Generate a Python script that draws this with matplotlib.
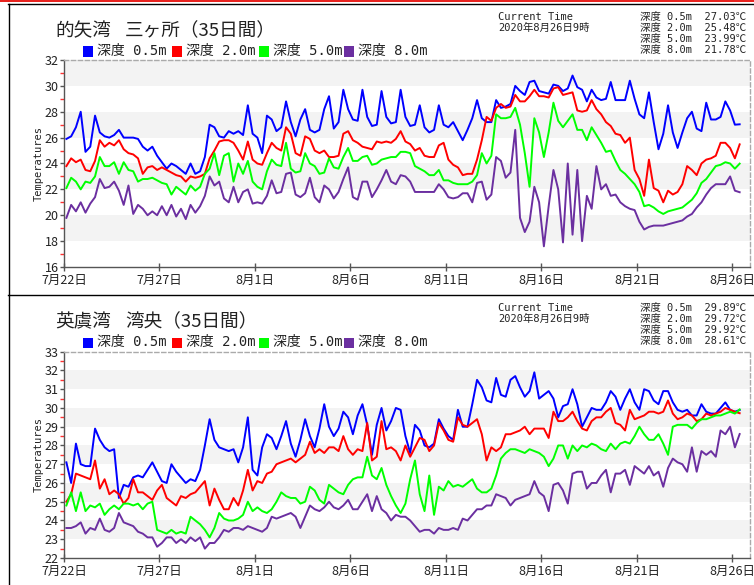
import matplotlib
matplotlib.use('Agg')
import matplotlib.pyplot as plt
from matplotlib.lines import Line2D
from matplotlib.patches import Rectangle
from datetime import datetime, timedelta
import numpy as np

plt.rcParams['font.family'] = ['Noto Sans CJK JP', 'DejaVu Sans']

# ---------------- data ----------------
START = datetime(2020, 7, 22)
N_DAYS = 35
SAMPLE_HOURS = [3, 9, 15, 21]
LAST_DAY_HOURS = [3, 9]          # 2020-08-26 03h, 09h (current time)
depth_labels = ["0.5", "2.0", "5.0", "8.0"]
series_colors = ["#0000ff", "#ff0000", "#00ff00", "#6b2fa0"]
current_time_label = "2020年8月26日9時"
period_label = "（35日間）"

# 的矢湾 三ヶ所
mato_05 = [25.9, 26.1, 26.8, 28.0, 24.9, 25.3, 27.7, 26.4, 26.1, 26.0, 26.2, 26.6,
           26.0, 26.0, 26.0, 25.9, 25.3, 25.0, 25.3, 24.6, 24.1, 23.6, 24.0, 23.8,
           23.5, 23.2, 24.0, 23.2, 23.4, 24.5, 27.0, 26.8, 26.1, 26.0, 26.5, 26.3,
           26.5, 26.2, 28.5, 26.3, 26.0, 24.8, 27.7, 27.4, 26.5, 26.8, 28.8, 27.2,
           26.1, 27.4, 28.2, 26.6, 26.4, 26.6, 28.2, 29.2, 26.7, 27.2, 29.7, 28.2,
           27.4, 27.3, 29.7, 27.6, 26.9, 27.0, 29.6, 27.6, 27.1, 27.2, 29.7, 27.6,
           26.9, 27.0, 28.5, 26.8, 26.4, 26.6, 28.5, 27.0, 26.8, 27.2, 26.5, 25.8,
           26.6, 27.5, 28.9, 27.5, 27.2, 27.2, 28.9, 28.3, 28.4, 28.6, 30.0, 29.6,
           29.3, 30.3, 30.4, 29.6, 29.5, 29.4, 30.1, 30.0, 29.6, 29.8, 30.8, 29.9,
           29.7, 28.8, 29.7, 29.1, 28.9, 29.0, 30.3, 28.9, 28.9, 28.9, 30.4, 29.0,
           27.8, 27.5, 29.5, 27.2, 25.1, 26.3, 28.5, 26.4, 25.2, 26.4, 27.5, 28.0,
           26.7, 26.5, 28.7, 27.4, 27.4, 27.6, 28.8, 28.1, 27.0, 27.03]
mato_20 = [23.8, 24.4, 24.1, 24.3, 23.5, 23.4, 24.2, 25.8, 25.3, 25.6, 25.4, 25.8,
           25.1, 24.8, 24.7, 24.4, 23.2, 23.7, 23.8, 23.5, 23.7, 23.5, 23.3, 23.1,
           23.0, 22.6, 23.0, 22.9, 23.0, 23.2, 24.4, 25.0, 25.7, 25.8, 25.8, 25.6,
           25.0, 24.3, 25.7, 24.3, 24.0, 23.9, 24.8, 25.6, 25.2, 25.0, 26.8, 26.3,
           24.8, 24.6, 26.1, 25.9, 25.0, 24.8, 25.0, 24.5, 24.5, 24.6, 26.3, 26.5,
           25.8, 25.6, 25.3, 25.2, 25.1, 25.7, 25.6, 25.7, 25.6, 25.9, 26.5, 25.7,
           25.5, 25.0, 25.2, 24.6, 24.5, 24.5, 25.4, 25.6, 24.3, 23.9, 23.7, 23.1,
           23.2, 23.2, 24.3, 25.8, 27.6, 27.3, 28.3, 28.6, 28.3, 28.4, 29.3, 28.8,
           28.8, 29.2, 29.7, 29.2, 29.2, 29.1, 29.8, 29.9, 29.3, 29.4, 29.5, 28.1,
           28.0, 28.1, 28.9, 28.2, 27.8, 27.2, 26.9, 26.3, 26.2, 25.6, 26.0, 23.5,
           22.8, 21.5, 24.3, 22.1, 21.9, 21.0, 21.9, 21.6, 21.8, 22.4, 23.8, 23.5,
           23.1, 24.0, 24.3, 24.4, 24.6, 25.6, 25.6, 25.2, 24.4, 25.48]
mato_50 = [22.1, 22.9, 22.6, 22.0, 22.6, 22.5, 23.0, 24.5, 23.8, 23.8, 24.1, 23.2,
           24.1, 23.5, 23.4, 22.6, 22.8, 22.8, 22.9, 22.7, 22.5, 22.4, 21.6, 22.2,
           21.9, 21.6, 22.3, 21.9, 22.2, 23.2, 23.6, 24.8, 23.1, 24.6, 24.8, 22.6,
           24.0, 23.2, 24.2, 22.6, 22.2, 22.0, 23.4, 24.3, 23.9, 23.8, 25.6, 23.6,
           23.3, 23.4, 24.8, 24.0, 23.8, 23.2, 23.3, 24.4, 23.7, 23.6, 24.5, 25.2,
           24.2, 24.2, 24.5, 24.6, 23.9, 24.0, 24.3, 24.4, 24.5, 24.5, 24.9, 24.9,
           24.8, 23.8, 23.6, 23.4, 23.1, 23.1, 23.5, 22.7, 22.7, 22.5, 22.4, 22.4,
           22.4, 22.6, 23.1, 24.8, 24.0, 24.6, 27.8, 27.5, 27.5, 27.6, 28.3, 27.0,
           24.8, 22.2, 27.5, 26.4, 24.5, 26.4, 28.7, 27.3, 26.8, 27.3, 27.8, 26.6,
           26.6, 25.8, 26.8, 26.2, 25.6, 24.9, 25.0, 24.2, 23.5, 23.2, 22.8, 22.4,
           21.8, 20.7, 20.8, 20.6, 20.3, 20.1, 20.3, 20.4, 20.5, 20.6, 20.9, 21.2,
           21.7, 22.5, 22.8, 23.3, 23.8, 23.9, 24.1, 24.0, 23.6, 23.99]
mato_80 = [19.8, 20.8, 20.3, 21.0, 20.2, 20.9, 21.4, 22.8, 22.1, 22.2, 22.6, 21.9,
           20.8, 22.3, 20.1, 20.8, 20.5, 20.0, 20.3, 20.0, 20.7, 20.0, 20.8, 19.9,
           20.5, 19.7, 20.8, 20.2, 20.7, 21.5, 23.0, 22.3, 22.6, 21.3, 21.0, 22.2,
           21.0, 21.8, 22.0, 20.9, 21.0, 20.9, 21.5, 22.7, 21.7, 21.8, 23.2, 23.3,
           21.6, 21.4, 21.7, 22.9, 21.4, 21.0, 22.3, 22.0, 21.3, 21.8, 22.8, 23.7,
           21.4, 21.2, 22.6, 22.6, 21.4, 22.0, 22.7, 23.5, 22.6, 22.4, 23.1, 23.0,
           22.6, 21.8, 21.8, 21.8, 21.8, 21.8, 22.4, 22.0, 21.4, 21.3, 21.4, 21.7,
           21.7, 21.0, 22.5, 22.6, 21.2, 21.6, 24.5, 24.2, 22.9, 23.3, 26.6, 19.8,
           18.7, 19.5, 22.2, 21.0, 17.6, 20.7, 23.5, 22.0, 17.9, 24.0, 18.5, 23.5,
           18.0, 21.5, 20.5, 23.8, 22.0, 22.4, 21.5, 21.6, 21.0, 20.7, 20.5, 20.4,
           19.5, 18.9, 19.1, 19.2, 19.2, 19.2, 19.3, 19.4, 19.5, 19.6, 19.9, 20.1,
           20.6, 21.0, 21.6, 22.1, 22.4, 22.4, 22.4, 23.0, 21.9, 21.78]

# 英虞湾 湾央
ago_05 = [27.1, 26.0, 28.1, 27.0, 26.9, 26.9, 28.9, 28.3, 27.9, 27.7, 27.8, 25.2,
          25.9, 25.8, 26.3, 26.4, 26.3, 26.7, 27.1, 26.6, 26.1, 26.0, 27.0, 26.6,
          26.3, 26.0, 26.2, 26.1, 26.7, 28.0, 29.4, 28.3, 27.9, 27.8, 27.7, 27.8,
          27.1, 27.9, 29.5, 26.7, 26.4, 27.9, 28.6, 28.4, 27.8, 28.5, 29.3, 28.1,
          27.4, 28.3, 29.4, 28.5, 27.9, 28.9, 30.2, 29.0, 28.5, 28.9, 29.8, 29.5,
          28.6, 29.6, 30.2, 29.1, 27.5, 29.1, 30.0, 28.8, 29.3, 30.0, 29.9, 28.5,
          27.6, 29.1, 28.8, 28.0, 27.9, 28.1, 29.4, 28.9, 28.5, 28.3, 29.9, 29.0,
          29.0, 30.2, 31.5, 31.1, 30.4, 30.3, 31.6, 30.7, 30.6, 31.5, 31.7, 31.1,
          30.6, 30.9, 31.9, 30.5, 30.7, 30.9, 30.5, 29.5, 30.1, 30.2, 31.0, 30.2,
          29.0, 29.5, 30.0, 29.9, 29.9, 30.3, 30.9, 30.6, 29.9, 30.5, 31.0, 30.3,
          29.9, 31.0, 30.9, 30.4, 30.2, 30.9, 30.9, 30.3, 29.9, 29.8, 29.9, 29.6,
          29.6, 30.2, 29.8, 29.7, 29.7, 30.0, 30.3, 29.9, 29.8, 29.89]
ago_20 = [25.0, 25.4, 26.5, 26.4, 26.3, 26.2, 27.2, 25.7, 26.2, 25.4, 25.6, 25.4,
          24.9, 25.2, 26.2, 25.5, 25.5, 25.3, 25.1, 25.6, 25.9, 25.2, 25.0, 24.8,
          25.3, 25.2, 25.4, 25.5, 25.8, 26.1, 24.8, 25.7, 25.1, 24.6, 24.6, 25.2,
          24.8, 25.6, 26.7, 25.6, 26.1, 26.0, 26.5, 26.6, 27.0, 27.1, 27.2, 27.3,
          27.1, 27.3, 27.5, 28.2, 27.6, 27.8, 27.6, 27.9, 27.9, 27.7, 28.5, 27.8,
          27.5, 27.8, 27.7, 29.2, 27.2, 27.4, 29.3, 27.8, 27.9, 27.7, 27.2, 28.0,
          27.4, 27.9, 28.4, 28.3, 27.7, 28.0, 29.2, 28.8, 28.3, 28.2, 29.5, 29.1,
          29.0, 29.2, 29.4, 28.6, 27.2, 27.9, 27.7, 27.9, 28.6, 28.6, 28.7, 28.8,
          29.0, 28.6, 28.9, 28.9, 28.9, 28.4, 29.8, 29.3, 29.3, 29.5, 29.8, 29.3,
          28.9, 28.8, 29.3, 29.5, 29.5, 29.8, 30.0, 29.2, 29.1, 28.8, 29.9, 29.4,
          29.5, 29.6, 29.8, 29.8, 29.7, 29.8, 30.4, 29.7, 29.4, 29.5, 29.7, 29.6,
          29.3, 29.4, 29.7, 29.6, 29.7, 29.8, 30.0, 29.9, 29.8, 29.72]
ago_50 = [24.8, 25.5, 24.5, 25.5, 24.5, 24.8, 24.7, 24.9, 24.3, 24.6, 24.8, 24.6,
          24.9, 24.9, 24.8, 24.9, 24.6, 24.9, 25.0, 23.5, 23.4, 23.3, 23.5, 23.3,
          23.4, 23.3, 24.2, 24.0, 23.8, 23.5, 23.1, 23.6, 24.4, 24.1, 24.0, 24.0,
          24.1, 24.3, 25.0, 24.5, 24.7, 24.5, 24.4, 24.6, 25.0, 25.5, 25.3, 25.2,
          25.2, 24.9, 25.0, 25.8, 25.6, 25.1, 24.9, 25.9, 25.7, 25.5, 25.4, 25.9,
          26.2, 26.3, 26.3, 27.4, 26.4, 26.2, 26.8, 25.9, 25.3, 24.8, 24.4, 24.9,
          26.2, 27.2, 25.4, 24.5, 26.4, 24.3, 25.8, 25.6, 26.1, 25.8, 25.9, 25.8,
          26.0, 26.2, 25.7, 25.5, 25.5, 25.7, 26.4, 27.3, 27.6, 27.8, 27.8, 27.7,
          27.6, 27.8, 27.7, 27.6, 27.4, 26.9, 27.3, 28.0, 28.0, 27.3, 28.0, 27.7,
          28.0, 27.9, 28.1, 28.0, 27.8, 27.7, 28.1, 27.8, 28.1, 28.2, 28.1, 28.5,
          29.0, 28.6, 28.3, 28.3, 28.6, 28.1, 27.5, 29.0, 29.1, 29.1, 29.1, 28.9,
          29.2, 29.4, 29.4, 29.5, 29.6, 29.6, 29.7, 29.8, 29.7, 29.92]
ago_80 = [23.6, 23.6, 23.7, 23.9, 23.3, 23.6, 23.5, 24.1, 23.5, 23.4, 23.6, 24.4,
          23.9, 23.8, 23.7, 23.4, 23.3, 23.1, 23.1, 22.6, 22.8, 23.1, 23.1, 22.8,
          23.0, 22.8, 23.1, 22.9, 23.1, 22.5, 22.8, 22.8, 23.1, 23.5, 23.4, 23.6,
          23.6, 23.5, 23.7, 23.6, 23.5, 23.4, 23.6, 24.2, 24.1, 24.2, 24.3, 24.4,
          24.2, 23.6, 24.2, 24.8, 24.6, 24.5, 24.7, 25.0, 24.7, 24.6, 24.8, 25.1,
          24.6, 24.6, 25.0, 25.4, 24.5, 25.3, 24.6, 24.4, 24.0, 24.3, 24.2, 24.2,
          24.0, 23.7, 23.4, 23.5, 23.5, 23.3, 23.6, 23.5, 23.5, 23.6, 23.5, 24.1,
          24.0, 24.3, 24.6, 24.6, 24.8, 24.8, 25.4, 25.3, 25.2, 24.8, 25.1, 25.2,
          25.3, 25.4, 26.1, 25.5, 25.3, 24.5, 25.9, 26.0, 25.6, 24.9, 26.5, 26.6,
          26.6, 25.7, 26.0, 26.0, 26.4, 26.7, 25.5, 26.5, 26.5, 26.7, 25.9, 26.9,
          26.7, 26.5, 26.9, 26.4, 26.6, 25.8, 26.8, 27.3, 27.1, 27.0, 26.6, 27.9,
          26.6, 27.7, 27.5, 27.7, 27.4, 28.8, 28.6, 29.0, 27.9, 28.61]

panels = [
    dict(place="的矢湾", site="三ヶ所",
         series=[mato_05, mato_20, mato_50, mato_80],
         ylim=(16, 32), ystep=2, top=60.0, bottom=267.0, off=0.0),
    dict(place="英虞湾", site="湾央",
         series=[ago_05, ago_20, ago_50, ago_80],
         ylim=(22, 33), ystep=1, top=351.7, bottom=558.0, off=291.0),
]

# ---------------- figure ----------------
W, H = 754, 585
fig = plt.figure(figsize=(W / 100, H / 100), dpi=100)
fig.patch.set_facecolor('white')


def fx(x):
    return x / W


def fy(y):
    return 1 - y / H


MONO = ['DejaVu Sans Mono', 'Noto Sans CJK JP']
CJK = ['Noto Sans CJK JP', 'DejaVu Sans']

times = [START + timedelta(days=d, hours=h) for d in range(N_DAYS) for h in SAMPLE_HOURS]
times += [START + timedelta(days=N_DAYS, hours=h) for h in LAST_DAY_HOURS]

x_left, x_right = 64.0, 750.0
px_per_day = 19.1
xmax = START + timedelta(days=(x_right - x_left) / px_per_day)
xticks = [START + timedelta(days=5 * k) for k in range(8)]

for p in panels:
    top, bottom, off = p['top'], p['bottom'], p['off']
    ax = fig.add_axes([fx(x_left), fy(bottom), (x_right - x_left) / W, (bottom - top) / H])
    ylo, yhi = p['ylim']
    step = p['ystep']
    yt = np.arange(ylo, yhi + step / 2, step)
    for i in range(len(yt) - 1):
        if i % 2 == 1:
            ax.axhspan(yt[i], yt[i + 1], color='#f3f3f3', lw=0, zorder=0)
    for vals, col in zip(p['series'], series_colors):
        ax.plot(times, vals, color=col, lw=1.4, solid_joinstyle='round', zorder=3)
    ax.set_xlim(START, xmax)
    ax.set_ylim(ylo, yhi)
    ax.set_yticks(yt)
    ax.set_yticks(yt[:-1] + step / 2, minor=True)
    ax.set_yticklabels([f"{int(v)}" for v in yt], fontsize=9, color='#222222')
    ax.set_xticks(xticks)
    ax.set_xticklabels([f"{d.month}月{d.day}日" for d in xticks], fontsize=9, color='#222222')
    ax.tick_params(axis='y', which='major', length=3, width=1, color='#555555', pad=1)
    ax.tick_params(axis='y', which='minor', length=3, width=1, color='#ff3333')
    ax.tick_params(axis='x', which='major', direction='inout', length=6, width=1,
                   color='#555555', pad=2)
    for s in ['left', 'bottom']:
        ax.spines[s].set_color('#555555')
        ax.spines[s].set_linewidth(1.0)
    for s in ['top', 'right']:
        ax.spines[s].set_color('#aaaaaa')
        ax.spines[s].set_linewidth(1.0)
        ax.spines[s].set_linestyle((0, (3, 2)))
    fig.text(fx(39), fy((top + bottom) / 2), "Temperatures", rotation=90,
             ha='center', va='center', fontsize=7.5, family=MONO, color='#222222')

    # title (two parts, as spaced in the reference)
    fig.text(fx(55), fy(31 + off), p['place'], ha='left', va='center',
             fontsize=13.4, family=CJK, color='#222222')
    fig.text(fx(125), fy(31 + off), p['site'] + period_label, ha='left', va='center',
             fontsize=13.4, family=CJK, color='#222222')
    # legend
    lx = [83, 172, 259, 344]
    for x0, col, dl in zip(lx, series_colors, depth_labels):
        fig.add_artist(Rectangle((fx(x0), fy(56.5 + off)), 10 / W, 10 / H,
                                 transform=fig.transFigure, color=col, lw=0))
        fig.text(fx(x0 + 14), fy(51 + off), f"深度 {dl}m", ha='left', va='center',
                 fontsize=10, family=MONO, color='#222222')
    # header (current time)
    fig.text(fx(498), fy(17 + off), "Current Time", ha='left', va='center',
             fontsize=7.5, family=MONO, color='#222222')
    fig.text(fx(498), fy(28 + off), current_time_label, ha='left', va='center',
             fontsize=7.5, family=MONO, color='#222222')
    for k, (vals, dl) in enumerate(zip(p['series'], depth_labels)):
        fig.text(fx(640), fy(17 + 11 * k + off), f"深度 {dl}m  {vals[-1]:.2f}℃",
                 ha='left', va='center', fontsize=7.5, family=MONO, color='#222222')

# page frame lines
fig.add_artist(Rectangle((0, fy(2)), 1, 2 / H, transform=fig.transFigure,
                         color='#e8231f', lw=0))
fig.add_artist(Line2D([fx(8), 1], [fy(3.5), fy(3.5)], transform=fig.transFigure,
                      color='black', lw=1.0))
fig.add_artist(Line2D([fx(8.5), fx(8.5)], [fy(3.5), 0], transform=fig.transFigure,
                      color='black', lw=1.0))
fig.add_artist(Line2D([fx(8), 1], [fy(294.5), fy(294.5)], transform=fig.transFigure,
                      color='black', lw=1.0))

fig.savefig('out.png', dpi=100)
